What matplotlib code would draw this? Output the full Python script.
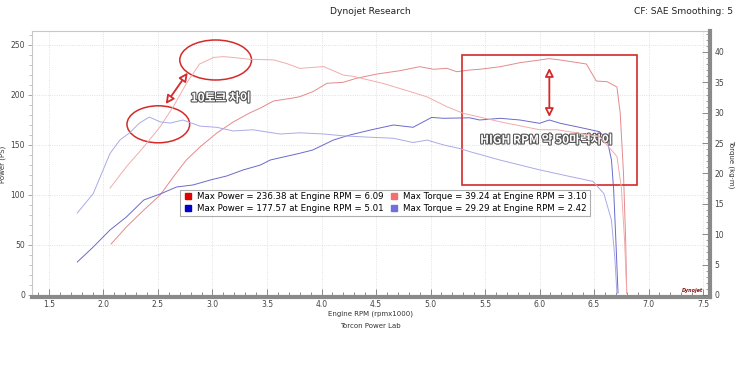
import matplotlib
matplotlib.use("Agg")
import matplotlib.pyplot as plt
from matplotlib.patches import Ellipse, Rectangle
from matplotlib.lines import Line2D
import matplotlib.patheffects as pe
import numpy as np

# ---------------- data ----------------
red_power_rpm = [2.07, 2.21, 2.37, 2.52, 2.64, 2.76, 2.885, 3.04, 3.19, 3.34, 3.44, 3.56, 3.74, 3.80,
                 3.92, 4.05, 4.20, 4.32, 4.51, 4.72, 4.90, 5.03, 5.15, 5.24, 5.36, 5.45, 5.64, 5.82,
                 6.0, 6.09, 6.19, 6.43, 6.52, 6.62, 6.71, 6.74, 6.77, 6.79, 6.80]
red_power = [51, 68, 85, 100, 118, 135, 148, 162, 173, 182, 187, 194, 197, 198.3,
             203.3, 211.7, 212.7, 216.7, 221, 224.3, 228.3, 225.7, 226.7, 223.3, 225, 225.7, 228.3, 232.3,
             235, 236.38, 235, 231, 214, 213.3, 208, 182, 122, 55, 2]

red_torque_rpm = [2.06, 2.21, 2.37, 2.52, 2.64, 2.76, 2.88, 3.01, 3.10, 3.19, 3.34, 3.56, 3.68, 3.80,
                  4.02, 4.20, 4.29, 4.57, 4.81, 4.97, 5.15, 5.30, 5.45, 5.64, 6.0, 6.16, 6.37, 6.55,
                  6.71, 6.75, 6.78, 6.80]
red_torque = [17.6, 21.1, 24.4, 27.7, 31.0, 34.8, 38.0, 39.1, 39.24, 39.1, 38.8, 38.7, 38.1, 37.3,
              37.6, 36.2, 36.0, 34.8, 33.5, 32.6, 31.0, 29.9, 29.3, 28.5, 27.2, 27.2, 26.6, 26.1,
              22.8, 17.8, 9.0, 0.3]

blue_power_rpm = [1.76, 1.906, 2.06, 2.21, 2.37, 2.52, 2.67, 2.82, 2.98, 3.13, 3.28, 3.44, 3.53, 3.80,
                  3.92, 4.11, 4.26, 4.45, 4.66, 4.84, 5.01, 5.12, 5.36, 5.45, 5.64, 5.82, 6.0, 6.09,
                  6.19, 6.34, 6.55, 6.62, 6.66, 6.68, 6.70, 6.72]
blue_power = [33, 48, 65, 78, 95, 101, 108, 110, 115, 119, 125, 130, 135, 141.7,
              145, 155, 160, 165, 170, 167.7, 177.57, 176.7, 177.2, 175, 176.7, 175, 171.7, 175,
              171.7, 168.3, 163.3, 155, 135, 105, 55, 2]

blue_torque_rpm = [1.76, 1.906, 2.06, 2.15, 2.24, 2.33, 2.42, 2.52, 2.61, 2.73, 2.885, 3.04, 3.19,
                   3.37, 3.62, 3.80, 4.02, 4.20, 4.41, 4.66, 4.84, 4.97, 5.12, 5.27, 5.36, 5.64,
                   6.0, 6.28, 6.49, 6.59, 6.66, 6.69, 6.71]
blue_torque = [13.5, 16.7, 23.3, 25.5, 26.7, 28.3, 29.29, 28.5, 28.3, 28.8, 27.8, 27.6, 27.0,
               27.2, 26.5, 26.7, 26.5, 26.2, 26.0, 25.8, 25.1, 25.5, 24.7, 24.1, 23.6, 22.2,
               20.6, 19.5, 18.7, 16.7, 12.3, 6.3, 0.3]

x_ticks = [1.5, 2.0, 2.5, 3.0, 3.5, 4.0, 4.5, 5.0, 5.5, 6.0, 6.5, 7.0, 7.5]
power_ticks = [0, 50, 100, 150, 200, 250]
torque_ticks = [0, 5, 10, 15, 20, 25, 30, 35, 40]

# ---------------- style ----------------
c_red_power = "#e58a8a"
c_red_torque = "#f2acac"
c_blue_power = "#6a6acc"
c_blue_torque = "#aaaae8"

plt.rcParams['font.family'] = ['DejaVu Sans']

fig = plt.figure(figsize=(7.4, 3.78), dpi=100)
ax = fig.add_axes([0.0432, 0.2143, 0.9163, 0.7037])
ax2 = ax.twinx()

ax.set_xlim(1.344, 7.564)
ax.set_ylim(-2, 264)
ax2.set_ylim(-2 / 6.075, 264 / 6.075)

ax.plot(red_power_rpm, red_power, color=c_red_power, lw=0.7, zorder=3)
ax.plot(blue_power_rpm, blue_power, color=c_blue_power, lw=0.7, zorder=3)
ax2.plot(red_torque_rpm, red_torque, color=c_red_torque, lw=0.7, zorder=3)
ax2.plot(blue_torque_rpm, blue_torque, color=c_blue_torque, lw=0.7, zorder=3)

# grid
ax.set_xticks(x_ticks)
ax.set_xticks(np.arange(1.4, 7.56, 0.1), minor=True)
ax.set_yticks(power_ticks)
ax.set_yticks(np.arange(0, 261, 10), minor=True)
ax.grid(True, which='major', color='#d8d8d8', lw=0.6, ls=':')
ax2.set_yticks(torque_ticks)
ax2.set_yticks(np.arange(0, 44, 1), minor=True)

for s in ['top', 'left']:
    ax.spines[s].set_color('#c8c8c8')
    ax.spines[s].set_linewidth(0.8)
ax.spines['bottom'].set_color('#8a8a8a')
ax.spines['bottom'].set_linewidth(3)
ax.spines['right'].set_visible(False)
ax2.spines['right'].set_color('#8a8a8a')
ax2.spines['right'].set_linewidth(3)
for s in ['top', 'left', 'bottom']:
    ax2.spines[s].set_visible(False)

ax.tick_params(axis='x', which='major', direction='in', length=6, width=0.6, color='#777777',
               labelsize=5.5, labelcolor='#444444', pad=2)
ax.tick_params(axis='x', which='minor', direction='in', length=3.5, width=0.6, color='#777777')
ax.tick_params(axis='y', which='major', direction='out', length=3, width=0.6, color='#999999',
               labelsize=5.5, labelcolor='#444444', pad=2)
ax.tick_params(axis='y', which='minor', direction='out', length=2, width=0.5, color='#aaaaaa')
ax2.tick_params(axis='y', which='major', direction='in', length=6, width=0.6, color='#777777',
                labelsize=5.5, labelcolor='#444444', pad=3)
ax2.tick_params(axis='y', which='minor', direction='in', length=3, width=0.5, color='#777777')
ax.set_xticklabels([f"{v:.1f}" for v in x_ticks])

ax.set_xlabel("Engine RPM (rpmx1000)", fontsize=5, color='#333333', labelpad=1)
ax.set_ylabel("Power (PS)", fontsize=5, color='#333333', labelpad=3)
ax2.set_ylabel("Torque (kg·m)", fontsize=5, color='#333333', rotation=270, labelpad=8)
fig.text(0.5, 1 - 326 / 378, "Torcon Power Lab", fontsize=5, color='#333333', ha='center', va='center')

fig.text(0.5, 1 - 12 / 378, "Dynojet Research", fontsize=6.6, color='#222222', ha='center', va='center')
fig.text(733 / 740, 1 - 12 / 378, "CF: SAE Smoothing: 5", fontsize=6.6, color='#222222', ha='right', va='center')

# legend
rp_i = int(np.argmax(red_power)); bp_i = int(np.argmax(blue_power))
rt_i = int(np.argmax(red_torque)); bt_i = int(np.argmax(blue_torque))
handles = [
    Line2D([], [], ls='none', marker='s', ms=5, mfc='#e00000', mec='#e00000'),
    Line2D([], [], ls='none', marker='s', ms=5, mfc='#0000c8', mec='#0000c8'),
    Line2D([], [], ls='none', marker='s', ms=5, mfc='#f07070', mec='#f07070'),
    Line2D([], [], ls='none', marker='s', ms=5, mfc='#6f6fe0', mec='#6f6fe0'),
]
labels = [
    f"Max Power = {red_power[rp_i]:.2f} at Engine RPM = {red_power_rpm[rp_i]:.2f}",
    f"Max Power = {blue_power[bp_i]:.2f} at Engine RPM = {blue_power_rpm[bp_i]:.2f}",
    f"Max Torque = {red_torque[rt_i]:.2f} at Engine RPM = {red_torque_rpm[rt_i]:.2f}",
    f"Max Torque = {blue_torque[bt_i]:.2f} at Engine RPM = {blue_torque_rpm[bt_i]:.2f}",
]
leg = ax2.legend(handles, labels, ncol=2, loc='upper left', bbox_to_anchor=(0.218, 0.404),
                 fontsize=6.2, frameon=True, fancybox=False, edgecolor='#9a9a9a',
                 borderpad=0.3, labelspacing=0.35, handlelength=1.2, handletextpad=0.5,
                 columnspacing=0.6, borderaxespad=0)
leg.get_frame().set_linewidth(0.8)
leg.set_zorder(10)

# annotations
red = '#d42a2a'
ax.add_patch(Ellipse((3.029, 235), 0.658, 40, fill=False, ec=red, lw=1.1, zorder=5))
ax.add_patch(Ellipse((2.503, 170.7), 0.575, 37, fill=False, ec=red, lw=1.1, zorder=5))
ax.annotate('', xy=(2.772, 222.3), xytext=(2.571, 191),
            arrowprops=dict(arrowstyle='<|-|>,head_length=0.5,head_width=0.25', color=red,
                            fc='white', lw=1.3, shrinkA=0, shrinkB=0), zorder=6)
ax.add_patch(Rectangle((5.286, 110), 1.605, 130, fill=False, ec=red, lw=1.2, zorder=5))
ax.annotate('', xy=(6.09, 227), xytext=(6.09, 178),
            arrowprops=dict(arrowstyle='<|-|>,head_length=0.5,head_width=0.25', color=red,
                            fc='white', lw=1.3, shrinkA=0, shrinkB=0), zorder=6)
outline = [pe.withStroke(linewidth=1.6, foreground='#555555')]
ax.text(2.80, 197, "10토크 차이", fontsize=8.5, color='white', fontweight='bold',
        family=['Noto Sans CJK KR', 'DejaVu Sans'], ha='left', va='center',
        path_effects=outline, zorder=7)
ax.text(6.064, 155, "HIGH RPM 약 50마력차이", fontsize=8.5, color='white', fontweight='bold',
        family=['Noto Sans CJK KR', 'DejaVu Sans'], ha='center', va='center',
        path_effects=outline, zorder=7)

# small dyno logo text
ax.text(7.4, 1.5, "Dynojet", fontsize=3.5, color='#8a1010', fontweight='bold',
        fontstyle='italic', ha='center', va='bottom', zorder=7)

fig.savefig("out.png", dpi=100)
